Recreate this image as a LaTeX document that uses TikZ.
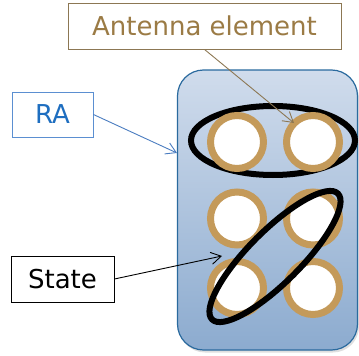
\documentclass[tikz,border=0pt]{standalone}
\usepackage{fontspec}
\setmainfont{DejaVu Sans}
\usetikzlibrary{arrows.meta,shapes.geometric,shadows}
\definecolor{ringc}{HTML}{C49A5A}
\definecolor{boardtop}{HTML}{D0DCEC}
\definecolor{boardbot}{HTML}{8CABCF}
\definecolor{boardline}{HTML}{2A6A9E}
\definecolor{antline}{HTML}{8C7753}
\definecolor{anttext}{HTML}{9B7B45}
\definecolor{raline}{HTML}{5B8FD1}
\definecolor{ratext}{HTML}{1E6EC0}
\definecolor{raarrow}{HTML}{4A7CC0}
\begin{document}
\begin{tikzpicture}[x=1pt,y=-1pt,
  labelbox/.style={draw, line width=0.9pt, fill=white, inner sep=0pt,
    font=\fontsize{26}{30}\selectfont},
  ring/.style={circle, draw=ringc, line width=7pt, fill=white,
    minimum size=53pt, inner sep=0pt},
  grp/.style={ellipse, draw=black, line width=6pt, inner sep=0pt},
  conn/.style={-{Straight Barb[length=10pt,width=12pt]}, line width=0.9pt},
  board/.style={rounded corners=26pt, draw=boardline, line width=1.2pt,
    top color=boardtop, bottom color=boardbot,
    drop shadow={shadow xshift=1.5pt, shadow yshift=-2.5pt, opacity=0.25}}]
\useasboundingbox (0,0) rectangle (359,356);

% board
\node[board, minimum width=180pt, minimum height=280pt, inner sep=0pt] (ra board) at (267.5,210) {};

% top group ellipse
\node[grp, minimum width=164pt, minimum height=69pt] (row) at (273,140.5) {};

% antenna elements
\node[ring] (e11) at (237,142) {};
\node[ring] (e12) at (313,142) {};
\node[ring] (e21) at (237,218.5) {};
\node[ring] (e22) at (313,218.5) {};
\node[ring] (e31) at (237,288) {};
\node[ring] (e32) at (313,288) {};

% slanted state ellipse
\node[grp, minimum width=178pt, minimum height=52pt, rotate=45] (diag) at (275,256.5) {};

% label boxes
\node[labelbox, draw=antline, text=anttext, minimum width=273pt, minimum height=46pt] (ant) at (204.5,26) {Antenna element};
\node[labelbox, draw=raline, text=ratext, minimum width=81pt, minimum height=45pt] (ra) at (52.5,114.5) {RA};
\node[labelbox, draw=black, text=black, minimum width=103pt, minimum height=46pt] (state) at (62.5,279) {State};

% arrow end points
\coordinate (anttip) at (294,123);
\coordinate (ratip) at (177,153);
\coordinate (statetip) at (222,256);

\draw[conn, draw=antline] (ant.south) -- (anttip);
\draw[conn, draw=raarrow] (ra.east) -- (ratip);
\draw[conn, draw=black] (state.east) -- (statetip);
\end{tikzpicture}
\end{document}
